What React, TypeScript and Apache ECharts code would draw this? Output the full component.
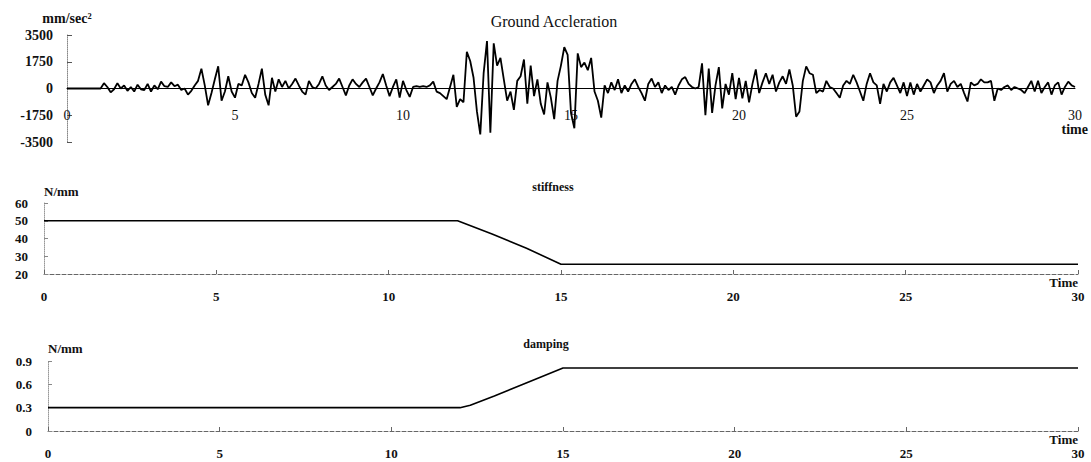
import React, { useEffect, useRef } from "react";
import * as echarts from "echarts";

// Ground acceleration (mm/sec^2), sampled every 0.1 s from t = 0 to 30 s
const ACCEL_STEP = 0.1;
const accelValues: number[] = [
  // 0.0 - 0.9
  0, 0, 0, 0, 0, 0, 0, 0, 0, 0,
  // 1.0 - 1.9
  0, 350, 100, -250, -50, 350, 0, 200, -150, 100,
  // 2.0 - 2.9
  -200, 250, -50, -100, 300, -200, 200, -50, 450, 150,
  // 3.0 - 3.9
  100, 400, 150, 250, -100, 0, -400, -150, 200, 500,
  // 4.0 - 4.9
  1300, 200, -1100, -300, 600, 1450, -800, -200, 800, -200,
  // 5.0 - 5.9
  -600, 300, 200, 900, 400, -300, -600, 300, 1300, -400,
  // 6.0 - 6.9
  -1100, 700, -200, 600, 100, 500, 0, 300, 650, 200,
  // 7.0 - 7.9
  -200, -400, 500, 100, 0, 300, 800, 200, -100, 100,
  // 8.0 - 8.9
  300, 650, 100, -450, 200, 600, 300, 100, 400, 650,
  // 9.0 - 9.9
  100, -450, 0, 400, 950, 200, -500, 100, 600, -600,
  // 10.0 - 10.9
  500, -100, -550, 100, 150, 100, 150, 100, 200, 450,
  // 11.0 - 11.9
  -200, -300, -500, -700, 100, 900, -1200, -700, -900, 2400,
  // 12.0 - 12.9
  1800, 700, -1500, -3000, 1000, 3100, -2900, 2950, 1500, 2000,
  // 13.0 - 13.9
  600, -800, -200, -1400, 500, 800, 1900, -1000, 1500, -500,
  // 14.0 - 14.9
  600, -1000, -1700, 400, -600, -2000, 500, 1500, 2700, 2200,
  // 15.0 - 15.9
  -1600, -2600, 2300, 1400, 1700, 1200, 2000, -200, -800, -1900,
  // 16.0 - 16.9
  200, -300, 400, -100, 600, -300, 200, -200, 300, 600,
  // 17.0 - 17.9
  100, -300, -800, 300, 650, 100, 400, -300, 200, -100,
  // 18.0 - 18.9
  100, -400, 200, 600, 750, 300, 100, 0, 100, 1650,
  // 19.0 - 19.9
  -1750, 1300, -1600, 200, 1400, -1300, 300, -400, 1000, -700,
  // 20.0 - 20.9
  700, -650, 500, -900, 300, 1250, -300, 400, 1000, 300,
  // 21.0 - 21.9
  900, -200, 400, 800, 300, 1250, 200, -1850, -1500, 500,
  // 22.0 - 22.9
  1450, 1000, 900, -300, -100, -200, 500, 100, 0, -300,
  // 23.0 - 23.9
  -600, 200, 500, 300, 900, 400, -200, -800, 300, 1000,
  // 24.0 - 24.9
  400, 200, -1000, 300, -200, 400, 700, 200, -300, 400,
  // 25.0 - 25.9
  -500, 400, -400, 300, -200, 200, 600, 400, -300, 200,
  // 26.0 - 26.9
  500, 1000, -200, 300, 500, 100, 300, -300, -850, 400,
  // 27.0 - 27.9
  200, 300, 600, 400, 400, 500, -800, 0, -100, 100,
  // 28.0 - 28.9
  200, -100, 100, 0, -100, -300, 100, 500, -200, 500,
  // 29.0 - 29.9
  -300, 100, 400, -400, 200, 400, -400, 100, 450, 200,
  // 30.0
  100,
];

// Stiffness (N/mm)
const stiffnessTime = [0, 12, 13, 14, 15, 30];
const stiffnessValues = [50, 50, 42.5, 34.5, 25.5, 25.5];

// Damping (N/mm)
const dampingTime = [0, 12, 12.3, 13, 14, 15, 30];
const dampingValues = [0.3, 0.3, 0.33, 0.45, 0.63, 0.81, 0.81];

// Tick settings
const accelTicks = { min: -3500, max: 3500, interval: 1750 };
const stiffTicks = { min: 20, max: 60, interval: 10 };
const dampTicks = { min: 0, max: 0.9, interval: 0.3 };
const timeTicks = { min: 0, max: 30, interval: 5 };

const SERIF = "'Liberation Serif', 'DejaVu Serif', serif";

export default function App() {
  const ref = useRef<HTMLDivElement>(null);

  useEffect(() => {
    if (!ref.current) return;
    const chart = echarts.init(ref.current, null, { renderer: "svg" });

    const accelData = accelValues.map((v, i) => [
      Math.round(i * ACCEL_STEP * 10) / 10,
      v,
    ]);
    const stiffData = stiffnessTime.map((t, i) => [t, stiffnessValues[i]]);
    const dampData = dampingTime.map((t, i) => [t, dampingValues[i]]);

    const lowerX = (gridIndex: number) => ({
      type: "value",
      gridIndex,
      ...timeTicks,
      name: "Time",
      nameLocation: "end",
      nameGap: 0,
      nameTextStyle: {
        fontFamily: SERIF,
        fontSize: 13,
        fontWeight: "bold",
        color: "#111",
        align: "right",
        verticalAlign: "top",
        padding: [2, 0, 0, 0],
      },
      axisLine: {
        onZero: false,
        lineStyle: { color: "#666", width: 1, type: "dashed" },
      },
      axisTick: {
        show: true,
        inside: true,
        length: 4,
        lineStyle: { color: "#666" },
      },
      axisLabel: {
        margin: 16,
        fontFamily: SERIF,
        fontSize: 13,
        fontWeight: "bold",
        color: "#111",
      },
      splitLine: { show: false },
    });

    const lowerY = (gridIndex: number, ticks: any, gap: number, margin: number) => ({
      type: "value",
      gridIndex,
      ...ticks,
      name: "N/mm",
      nameLocation: "end",
      nameGap: gap,
      nameTextStyle: {
        fontFamily: SERIF,
        fontSize: 13,
        fontWeight: "bold",
        color: "#111",
        align: "left",
      },
      axisLine: {
        show: true,
        lineStyle: { color: "#999", width: 1, type: "dotted" },
      },
      axisTick: {
        show: true,
        inside: true,
        length: 4,
        lineStyle: { color: "#888" },
      },
      axisLabel: {
        margin,
        fontFamily: SERIF,
        fontSize: 13,
        fontWeight: "bold",
        color: "#111",
      },
      splitLine: { show: false },
    });

    chart.setOption({
      animation: false,
      backgroundColor: "#fff",
      title: [
        {
          text: "Ground Accleration",
          left: 549,
          top: 8,
          textAlign: "center",
          textStyle: {
            fontFamily: SERIF,
            fontSize: 16,
            fontWeight: "normal",
            color: "#111",
          },
        },
        {
          text: "stiffness",
          left: 548,
          top: 176,
          textAlign: "center",
          textStyle: {
            fontFamily: SERIF,
            fontSize: 12,
            fontWeight: "bold",
            color: "#111",
          },
        },
        {
          text: "damping",
          left: 541,
          top: 333,
          textAlign: "center",
          textStyle: {
            fontFamily: SERIF,
            fontSize: 12,
            fontWeight: "bold",
            color: "#111",
          },
        },
      ],
      grid: [
        { left: 67, right: 16, top: 35, height: 107 },
        { left: 44, right: 13, top: 203, height: 71 },
        { left: 48, right: 13, top: 361, height: 70 },
      ],
      xAxis: [
        {
          type: "value",
          gridIndex: 0,
          ...timeTicks,
          name: "time",
          nameLocation: "end",
          nameGap: 13,
          nameTextStyle: {
            fontFamily: SERIF,
            fontSize: 14,
            fontWeight: "bold",
            color: "#111",
            align: "right",
            verticalAlign: "top",
            padding: [34, 0, 0, 0],
          },
          axisLine: {
            onZero: true,
            lineStyle: { color: "#000", width: 1 },
          },
          axisTick: { show: false },
          axisLabel: {
            margin: -34,
            fontFamily: SERIF,
            fontSize: 14,
            color: "#111",
          },
          splitLine: { show: false },
        },
        lowerX(1),
        lowerX(2),
      ],
      yAxis: [
        {
          type: "value",
          gridIndex: 0,
          ...accelTicks,
          name: "mm/sec²",
          nameLocation: "end",
          nameGap: 10,
          nameTextStyle: {
            fontFamily: SERIF,
            fontSize: 14,
            fontWeight: "bold",
            color: "#111",
            align: "center",
          },
          axisLine: {
            show: true,
            onZero: false,
            lineStyle: { color: "#888", width: 1, type: "dotted" },
          },
          axisTick: {
            show: true,
            inside: true,
            length: 5,
            lineStyle: { color: "#555" },
          },
          axisLabel: {
            margin: 14,
            fontFamily: SERIF,
            fontSize: 14,
            fontWeight: "bold",
            color: "#111",
            formatter: (v: number) => String(v),
          },
          splitLine: { show: false },
        },
        lowerY(1, stiffTicks, 5, 16),
        lowerY(2, dampTicks, 6, 16),
      ],
      series: [
        {
          type: "line",
          xAxisIndex: 0,
          yAxisIndex: 0,
          data: accelData,
          symbol: "none",
          lineStyle: { color: "#000", width: 1.8 },
          z: 3,
        },
        {
          type: "line",
          xAxisIndex: 1,
          yAxisIndex: 1,
          data: stiffData,
          symbol: "none",
          lineStyle: { color: "#000", width: 1.6 },
        },
        {
          type: "line",
          xAxisIndex: 2,
          yAxisIndex: 2,
          data: dampData,
          symbol: "none",
          lineStyle: { color: "#000", width: 1.6 },
        },
      ],
    });

    return () => chart.dispose();
  }, []);

  return (
    <div
      ref={ref}
      style={{
        position: "fixed",
        left: 0,
        top: 0,
        width: 1091,
        height: 462,
        background: "#fff",
      }}
    />
  );
}
